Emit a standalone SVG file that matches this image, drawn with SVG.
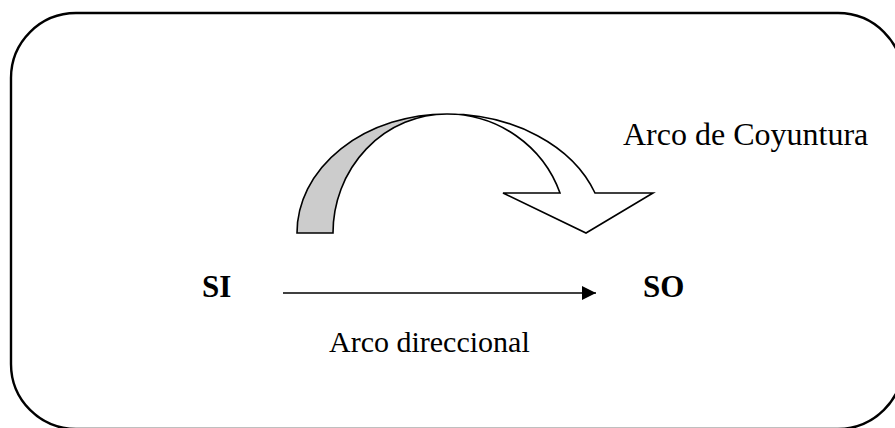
<svg xmlns="http://www.w3.org/2000/svg" width="895" height="428" viewBox="0 0 895 428">
<style>
.t{font-family:"Liberation Serif","Times New Roman",serif;fill:#000}
.b{font-weight:bold}
.sh{stroke:#000;stroke-width:1.6;stroke-linejoin:miter}
</style>
<defs>
<marker id="ah" markerWidth="14" markerHeight="14" refX="14" refY="7" orient="auto" markerUnits="userSpaceOnUse">
<path d="M0,0 L14,7 L0,14 Z" fill="#000"/>
</marker>
</defs>
<rect width="895" height="428" fill="#fff"/>
<g id="frame">
<rect x="11" y="13" width="892" height="416" rx="65" ry="65" fill="none" stroke="#000" stroke-width="2.4"/>
</g>
<g id="coyuntura-arc">
<path class="sh" fill="#cccccc" d="M297,233 A150,119 0 0 1 447,114 A114,119 0 0 0 333,233 Z"/>
<path class="sh" fill="#fff" d="M447,114 A157,119 0 0 1 595,193 L653,193 L586,233 L503,193 L560,193 A120,119 0 0 0 447,114 Z"/>
</g>
<g id="node-SI"><text class="t b" x="202" y="297" font-size="31">SI</text></g>
<g id="node-SO"><text class="t b" x="643" y="297" font-size="31">SO</text></g>
<g id="connectors">
<line x1="283" y1="293" x2="596" y2="293" stroke="#000" stroke-width="1.5" marker-end="url(#ah)"/>
</g>
<text class="t" x="623" y="145" font-size="32">Arco de Coyuntura</text>
<text class="t" x="329" y="352" font-size="30">Arco direccional</text>
</svg>
